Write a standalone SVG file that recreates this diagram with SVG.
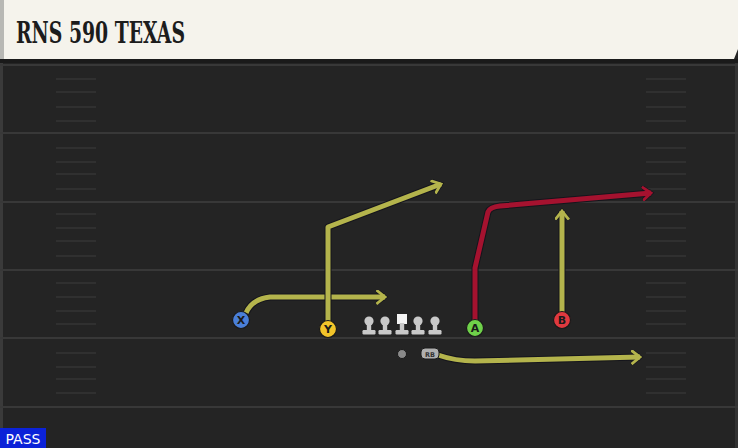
<svg xmlns="http://www.w3.org/2000/svg" width="738" height="448" viewBox="0 0 738 448">
<defs>
<style>
.yard{stroke:#383838;stroke-width:2}
.hash{stroke:#343434;stroke-width:1.6}
.route-o{fill:none;stroke:#15151c;stroke-width:7;stroke-linejoin:round}
.ry{fill:none;stroke:#b4b44c;stroke-width:5;stroke-linejoin:round}
.rr{fill:none;stroke:#a5122f;stroke-width:5;stroke-linejoin:round}
.pl{stroke:#1a1a1a;stroke-width:1.2}
.lbl{font-family:"DejaVu Sans","Liberation Sans",sans-serif;font-weight:bold;font-size:11px;fill:#1a1a1a;text-anchor:middle}
.ol{fill:#c9c9c9}
</style>
<marker id="ay" viewBox="0 0 10 10" refX="6" refY="5" markerWidth="3" markerHeight="3" orient="auto" markerUnits="strokeWidth">
<path d="M1,1 L6,5 L1,9" fill="none" stroke="#b4b44c" stroke-width="1.9" stroke-linecap="square"/>
</marker>
<marker id="ar" viewBox="0 0 10 10" refX="6" refY="5" markerWidth="3" markerHeight="3" orient="auto" markerUnits="strokeWidth">
<path d="M1,1 L6,5 L1,9" fill="none" stroke="#a5122f" stroke-width="1.9" stroke-linecap="square"/>
</marker>
<marker id="ao" viewBox="0 0 10 10" refX="6" refY="5" markerWidth="2.1428" markerHeight="2.1428" orient="auto" markerUnits="strokeWidth">
<path d="M1,1 L6,5 L1,9" fill="none" stroke="#15151c" stroke-width="2.8" stroke-linecap="square"/>
</marker>
<g id="lineman">
<circle cx="0" cy="-6" r="4.6" class="ol"/>
<rect x="-2.2" y="-5" width="4.4" height="8.5" class="ol"/>
<rect x="-6.5" y="3" width="13" height="4.5" rx="1.2" class="ol"/>
</g>
</defs>
<rect width="738" height="448" fill="#242424"/>
<rect x="0" y="60" width="3" height="388" fill="#3a3a3a"/>
<rect x="735" y="60" width="3" height="388" fill="#333"/>
<g id="field">
<line class="yard" x1="0" y1="65" x2="738" y2="65"/>
<line class="yard" x1="0" y1="133" x2="738" y2="133"/>
<line class="yard" x1="0" y1="202" x2="738" y2="202"/>
<line class="yard" x1="0" y1="270" x2="738" y2="270"/>
<line class="yard" x1="0" y1="338" x2="738" y2="338"/>
<line class="yard" x1="0" y1="407" x2="738" y2="407"/>
<g id="hash-left">
<line class="hash" x1="56" x2="96" y1="79" y2="79"/><line class="hash" x1="56" x2="96" y1="92" y2="92"/><line class="hash" x1="56" x2="96" y1="107" y2="107"/><line class="hash" x1="56" x2="96" y1="121" y2="121"/>
<line class="hash" x1="56" x2="96" y1="148" y2="148"/><line class="hash" x1="56" x2="96" y1="162" y2="162"/><line class="hash" x1="56" x2="96" y1="174" y2="174"/><line class="hash" x1="56" x2="96" y1="189" y2="189"/>
<line class="hash" x1="56" x2="96" y1="214" y2="214"/><line class="hash" x1="56" x2="96" y1="228" y2="228"/><line class="hash" x1="56" x2="96" y1="241" y2="241"/><line class="hash" x1="56" x2="96" y1="256" y2="256"/>
<line class="hash" x1="56" x2="96" y1="283" y2="283"/><line class="hash" x1="56" x2="96" y1="297" y2="297"/><line class="hash" x1="56" x2="96" y1="311" y2="311"/><line class="hash" x1="56" x2="96" y1="324" y2="324"/>
<line class="hash" x1="56" x2="96" y1="353" y2="353"/><line class="hash" x1="56" x2="96" y1="367" y2="367"/><line class="hash" x1="56" x2="96" y1="379" y2="379"/><line class="hash" x1="56" x2="96" y1="393" y2="393"/>
</g>
<g id="hash-right">
<line class="hash" x1="646" x2="686" y1="79" y2="79"/><line class="hash" x1="646" x2="686" y1="92" y2="92"/><line class="hash" x1="646" x2="686" y1="107" y2="107"/><line class="hash" x1="646" x2="686" y1="121" y2="121"/>
<line class="hash" x1="646" x2="686" y1="148" y2="148"/><line class="hash" x1="646" x2="686" y1="162" y2="162"/><line class="hash" x1="646" x2="686" y1="174" y2="174"/><line class="hash" x1="646" x2="686" y1="189" y2="189"/>
<line class="hash" x1="646" x2="686" y1="214" y2="214"/><line class="hash" x1="646" x2="686" y1="228" y2="228"/><line class="hash" x1="646" x2="686" y1="241" y2="241"/><line class="hash" x1="646" x2="686" y1="256" y2="256"/>
<line class="hash" x1="646" x2="686" y1="283" y2="283"/><line class="hash" x1="646" x2="686" y1="297" y2="297"/><line class="hash" x1="646" x2="686" y1="311" y2="311"/><line class="hash" x1="646" x2="686" y1="324" y2="324"/>
<line class="hash" x1="646" x2="686" y1="353" y2="353"/><line class="hash" x1="646" x2="686" y1="367" y2="367"/><line class="hash" x1="646" x2="686" y1="379" y2="379"/><line class="hash" x1="646" x2="686" y1="393" y2="393"/>
</g>
</g>
<g id="header">
<rect x="0" y="59" width="738" height="4" fill="#1a1a1a"/>
<path d="M0,0 H738 V49 L734,59 H0 Z" fill="#f5f3ec"/>
<rect x="0" y="0" width="4" height="59" fill="#b8b8b4"/>
<text x="16" y="43" font-family="'DejaVu Serif Condensed','DejaVu Serif','Liberation Serif',serif" font-weight="bold" font-size="29" fill="#1c1c1c" textLength="169" lengthAdjust="spacingAndGlyphs">RNS 590 TEXAS</text>
</g>
<g id="connectors">
<path class="route-o" d="M246,313 Q252,299 270,297 L385,297" marker-end="url(#ao)"/>
<path class="ry" d="M246,313 Q252,299 270,297 L385,297" marker-end="url(#ay)"/>
<path class="route-o" d="M328,321 L328,227 L441,184" marker-end="url(#ao)"/>
<path class="ry" d="M328,321 L328,227 L441,184" marker-end="url(#ay)"/>
<path class="route-o" d="M475,320 L475,268 L488,212 Q490,207 500,206 L651,193" marker-end="url(#ao)"/>
<path class="rr" d="M475,320 L475,268 L488,212 Q490,207 500,206 L651,193" marker-end="url(#ar)"/>
<path class="route-o" d="M562,312 L562,211" marker-end="url(#ao)"/>
<path class="ry" d="M562,312 L562,211" marker-end="url(#ay)"/>
<path class="route-o" d="M438,355 Q455,361 475,361 L640,357" marker-end="url(#ao)"/>
<path class="ry" d="M438,355 Q455,361 475,361 L640,357" marker-end="url(#ay)"/>
</g>
<g id="player-X"><circle cx="241" cy="320" r="8.5" fill="#4a7fd8" class="pl"/><text class="lbl" x="241" y="324">X</text></g>
<g id="player-Y"><circle cx="328" cy="329" r="8.5" fill="#f2c42a" class="pl"/><text class="lbl" x="328" y="333">Y</text></g>
<g id="player-A"><circle cx="475" cy="328" r="8.5" fill="#6fd14a" class="pl"/><text class="lbl" x="475" y="332">A</text></g>
<g id="player-B"><circle cx="562" cy="320" r="8.5" fill="#e0393f" class="pl"/><text class="lbl" x="562" y="324">B</text></g>
<g id="line">
<use href="#lineman" x="369" y="327"/>
<use href="#lineman" x="385" y="327"/>
<g id="center"><rect x="397" y="314" width="10" height="10" fill="#f4f4f4"/><rect x="399.8" y="323" width="4.4" height="7.5" class="ol"/><rect x="395.5" y="330" width="13" height="4.5" rx="1.2" class="ol"/></g>
<use href="#lineman" x="418" y="327"/>
<use href="#lineman" x="435" y="327"/>
</g>
<g id="qb"><circle cx="402" cy="354" r="4.5" fill="#8a8a8a" stroke="#1a1a1a" stroke-width="1"/></g>
<g id="rb"><rect x="421" y="348" width="18" height="11" rx="4" fill="#b0b0b0" stroke="#1a1a1a" stroke-width="1"/><text x="430" y="356.5" font-family="'DejaVu Sans','Liberation Sans',sans-serif" font-weight="bold" font-size="6.5" fill="#333" text-anchor="middle">RB</text></g>
<g id="pass-tag"><rect x="0" y="428" width="46" height="20" fill="#0b22d8"/><text x="23" y="444" font-family="'DejaVu Sans','Liberation Sans',sans-serif" font-size="14" fill="#ffffff" text-anchor="middle">PASS</text></g>
</svg>
